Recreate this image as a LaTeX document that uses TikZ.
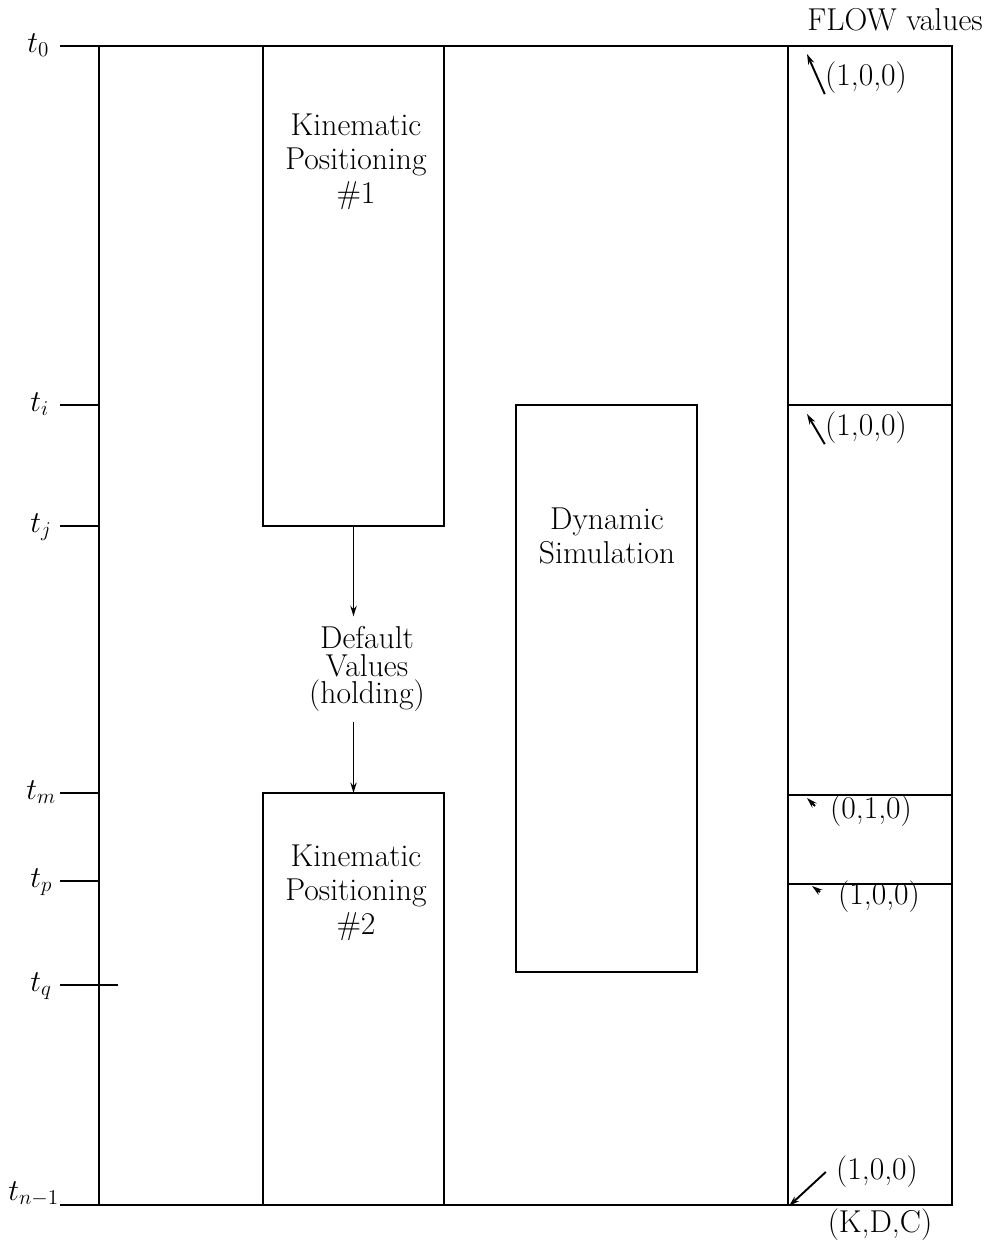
\documentclass[tikz,border=0pt]{standalone}
\usepackage{amsmath,amssymb}
\usetikzlibrary{arrows.meta, positioning}

\begin{document}
\begin{tikzpicture}[x=0.02cm, y=-0.02cm,
    box/.style={rectangle, draw, line width=1.1pt, inner sep=0pt, outer sep=0pt, minimum width=3.62cm},
    txt/.style={align=center, inner sep=0pt, font=\fontsize{18}{19.3}\selectfont},
    hold/.style={align=center, inner sep=0.2cm, font=\fontsize{18}{15.5}\selectfont},
    tlab/.style={anchor=base west, inner sep=0pt, font=\fontsize{18}{19}\selectfont},
    flow/.style={inner sep=0pt, font=\fontsize{18}{19}\selectfont},
    frame/.style={line width=1.1pt},
    arrow/.style={-{Stealth[length=6pt, width=3.6pt]}, line width=1.1pt}
]
    \useasboundingbox (0,0) rectangle (988,1251);

    % Time axis and outer frame
    \draw[frame] (60,46) -- (952,46) -- (952,1205) -- (60,1205);
    \draw[frame] (99,46) -- (99,1205);
    \draw[frame] (788,46) -- (788,1205);
    \draw[frame] (60,405) -- (99,405);
    \draw[frame] (60,526) -- (99,526);
    \draw[frame] (60,793) -- (99,793);
    \draw[frame] (60,881) -- (99,881);
    \draw[frame] (60,985) -- (118,985);

    \node[tlab] (t0) at (27,52) {$t_0$};
    \node[tlab] (ti) at (30,411) {$t_i$};
    \node[tlab] (tj) at (30,532) {$t_j$};
    \node[tlab] (tm) at (26,799) {$t_m$};
    \node[tlab] (tp) at (30,887) {$t_p$};
    \node[tlab] (tq) at (30,991) {$t_q$};
    \node[tlab] (tn) at (8,1200) {$t_{n-1}$};

    % Kinematic and dynamic blocks
    \node[box, minimum height=9.6cm] (kp1) at (353.5,286) {};
    \node[txt] (kp1t) at (356,162) {Kinematic\\Positioning\\\#1};
    \node[box, minimum height=8.24cm] (kp2) at (353.5,999) {};
    \node[txt] (kp2t) at (356,893) {Kinematic\\Positioning\\\#2};
    \node[box, minimum height=11.34cm] (ds) at (606.5,688.5) {};
    \node[txt] (dst) at (607,536) {Dynamic\\Simulation};

    \node[hold] (dv) at (367,669) {Default\\Values\\(holding)};
    \draw[arrow] (kp1.south) -- (kp1.south |- dv.north);
    \draw[arrow] (kp2.north |- dv.south) -- (kp2.north);

    % FLOW values column
    \draw[frame] (788,405) -- (952,405);
    \draw[frame] (788,795) -- (952,795);
    \draw[frame] (788,884) -- (952,884);

    \node[flow] (head) at (895,20) {FLOW values};
    \node[flow] (kdc) at (880,1225) {(K,D,C)};
    \node[flow] (v1) at (866,78) {(1,0,0)};
    \node[flow] (v2) at (866,428) {(1,0,0)};
    \node[flow] (v3) at (871,811) {(0,1,0)};
    \node[flow] (v4) at (879,897) {(1,0,0)};
    \node[flow] (v5) at (877,1172) {(1,0,0)};

    \coordinate (c1) at (807,54);
    \coordinate (c2) at (807,414);
    \coordinate (s3) at (815,806);
    \coordinate (c3) at (807,798);
    \coordinate (s4) at (820,892);
    \coordinate (c4) at (812,886);
    \coordinate (c5) at (789,1206);

    \draw[arrow] (v1.south west) -- (c1);
    \draw[arrow] (v2.south west) -- (c2);
    \draw[arrow] (s3) -- (c3);
    \draw[arrow] (s4) -- (c4);
    \draw[arrow] ([xshift=-0.2cm]v5.west) -- (c5);

\end{tikzpicture}
\end{document}
